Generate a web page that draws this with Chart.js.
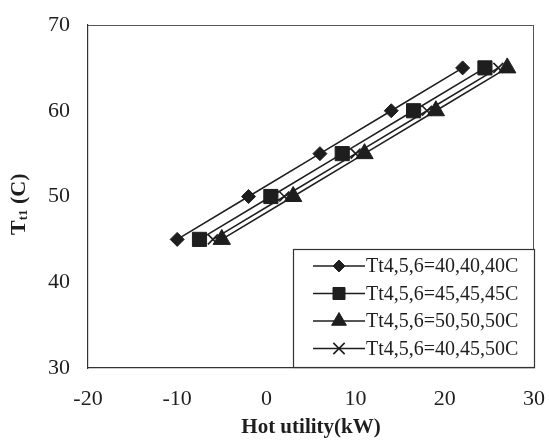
<!DOCTYPE html>
<html>
<head>
<meta charset="utf-8">
<script src="https://cdn.jsdelivr.net/npm/chart.js@4"></script>
<style>
  html, body { margin:0; padding:0; background:#fff; }
  #wrap { width:549px; height:441px; }
</style>
</head>
<body>
<div id="wrap"><canvas id="chart" width="549" height="441"></canvas></div>
<script>
const tempLevels = [45, 50, 55, 60, 65];
const hot404040 = [-10, -2, 6, 14, 22];
const hot454545 = [-7.5, 0.5, 8.5, 16.5, 24.5];
const hot505050 = [-5, 3, 11, 19, 27];
const hot404550 = [-6, 2, 10, 18, 26];
const seriesLabels = ['Tt4,5,6=40,40,40C', 'Tt4,5,6=45,45,45C', 'Tt4,5,6=50,50,50C', 'Tt4,5,6=40,45,50C'];
const xTicks = [-20, -10, 0, 10, 20, 30];
const yTicks = [30, 40, 50, 60, 70];

const ink = '#1e1e1e';
const serif = '"Liberation Serif", "Times New Roman", serif';

function pts(xs){ return xs.map((x,i)=>({x:x, y:tempLevels[i]})); }

const styles = [
  {pointStyle:'rectRot', radius:7},
  {pointStyle:'rect', radius:10},
  {pointStyle:'triangle', radius:10},
  {pointStyle:'crossRot', radius:7}
];

const datasets = [hot404040, hot454545, hot505050, hot404550].map((xs,i)=>({
  label: seriesLabels[i],
  data: pts(xs),
  showLine: true,
  borderColor: ink,
  backgroundColor: ink,
  borderWidth: 1.5,
  pointStyle: styles[i].pointStyle,
  pointRadius: styles[i].radius,
  pointBorderWidth: i===3 ? 1.6 : 1,
  pointBorderColor: ink,
  pointBackgroundColor: ink
}));

// y title with subscript + legend box with line through marker
const extras = {
  id:'extras',
  afterDraw(chart){
    const ctx = chart.ctx;
    const a = chart.chartArea;
    ctx.save();
    // frame top/right
    ctx.strokeStyle = '#555';
    ctx.lineWidth = 1;
    ctx.beginPath();
    ctx.moveTo(a.left, a.top+0.5); ctx.lineTo(a.right, a.top+0.5);
    ctx.moveTo(a.right-0.5, a.top); ctx.lineTo(a.right-0.5, a.bottom);
    ctx.stroke();

    // y title
    ctx.translate(19, 198);
    ctx.rotate(-Math.PI/2);
    ctx.fillStyle = ink;
    ctx.textBaseline = 'middle';
    ctx.font = 'bold 22px ' + serif;
    let w = ctx.measureText('T').width;
    ctx.fillText('T', -37, 0);
    ctx.font = 'bold 13px ' + serif;
    ctx.fillText('t1', -37 + w, 5);
    let w2 = ctx.measureText('t1').width;
    ctx.font = 'bold 22px ' + serif;
    ctx.fillText(' (C)', -37 + w + w2, 0);
    ctx.restore();

    // legend
    ctx.save();
    const bx = 293, by = 249, bw = 241, bh = 118;
    ctx.fillStyle = '#fff';
    ctx.fillRect(bx, by, bw, bh);
    ctx.strokeStyle = '#333';
    ctx.lineWidth = 1.2;
    ctx.strokeRect(bx+0.5, by+0.5, bw, bh);
    ctx.font = '20px ' + serif;
    ctx.textBaseline = 'middle';
    chart.data.datasets.forEach((ds,i)=>{
      const cy = 266 + i*27.5;
      ctx.strokeStyle = ink;
      ctx.fillStyle = ink;
      ctx.lineWidth = 1.5;
      ctx.beginPath();
      ctx.moveTo(313, cy); ctx.lineTo(365, cy);
      ctx.stroke();
      ctx.lineWidth = ds.pointBorderWidth;
      Chart.helpers.drawPoint(ctx, {
        pointStyle: ds.pointStyle, radius: ds.pointStyle === 'crossRot' ? 8 : ds.pointRadius * 0.85, rotation: 0,
        borderWidth: ds.pointBorderWidth
      }, 339, cy);
      ctx.fillStyle = ink;
      ctx.fillText(ds.label, 366, cy + 1);
    });
    ctx.restore();
  }
};

new Chart(document.getElementById('chart'), {
  type: 'scatter',
  data: { datasets: datasets },
  options: {
    responsive: false,
    animation: false,
    layout: { padding: { top: 25, right: 15, left: 0, bottom: 0 } },
    plugins: { legend: { display:false }, tooltip: { enabled:false } },
    scales: {
      x: {
        min: -20, max: 30,
        afterBuildTicks(s){ s.ticks = xTicks.map(v=>({value:v})); },
        afterFit(s){ s.height = 73; s.paddingRight = 0; s.paddingLeft = 0; },
        grid: { display:false, drawTicks:true, tickLength:6, tickColor:'#333' },
        border: { color:'#333', width:1.2 },
        ticks: { color: ink, font: { family: serif, size: 22 }, padding: 12 },
        title: { display:true, text:'Hot utility(kW)', color: ink,
                 font: { family: serif, size: 21, weight:'bold' }, padding: { top: 0, bottom: 1 } }
      },
      y: {
        min: 30, max: 70,
        afterBuildTicks(s){ s.ticks = yTicks.map(v=>({value:v})); },
        afterFit(s){ s.width = 88; s.paddingTop = 0; s.paddingBottom = 0; },
        grid: { display:false, drawTicks:true, tickLength:6, tickColor:'#333' },
        border: { color:'#333', width:1.2 },
        ticks: { color: ink, font: { family: serif, size: 22 }, padding: 12 }
      }
    }
  },
  plugins: [extras]
});
</script>
</body>
</html>
